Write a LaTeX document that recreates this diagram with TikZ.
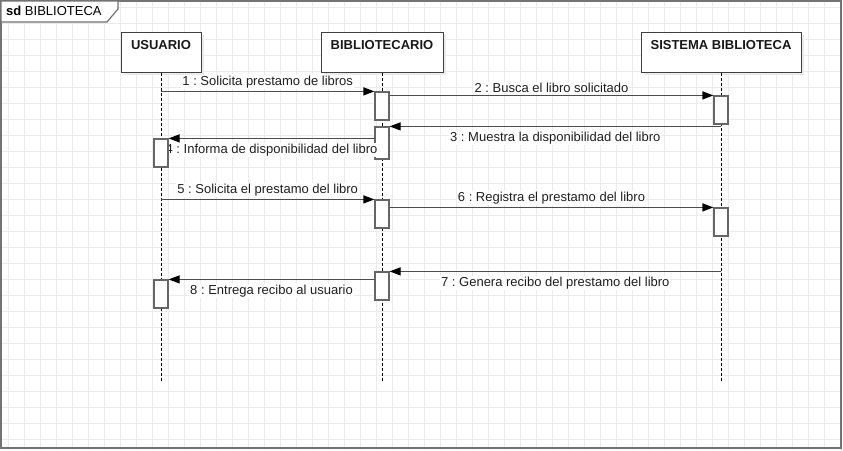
\documentclass[tikz,border=0pt]{standalone}
\usepackage{fontspec}
\setmainfont{Liberation Sans}
\usetikzlibrary{arrows.meta}
\frenchspacing
\begin{document}
\begin{tikzpicture}[x=1pt,y=-1pt,
  gridline/.style={draw=black!8,line width=1.6pt},
  framebox/.style={draw=black!55,line width=1.6pt},
  head/.style={draw=black!75,line width=1pt,fill=white,minimum width=#1,minimum height=40pt,inner sep=0pt},
  shadowbox/.style={fill=black!8,draw=none,minimum width=#1,minimum height=40pt,inner sep=0pt},
  headtext/.style={font=\fontsize{13}{15}\selectfont\bfseries,text=black!90,inner sep=0pt},
  life/.style={draw=black,line width=0.8pt,dash pattern=on 3pt off 2pt},
  act/.style={draw=black!60,line width=1.2pt,fill=white,minimum width=14pt,minimum height=28pt,inner sep=0pt},
  msg/.style={draw=black!70,line width=1.2pt,-{Triangle[length=11pt,width=8pt,black]}},
  lbl/.style={font=\fontsize{13}{15}\selectfont,text=black!88,fill=white,inner sep=1pt},
  lblb/.style={lbl,below=4pt},
  lbla/.style={lbl,above=1.5pt}
]
\useasboundingbox (0,0) rectangle (843,450);
\fill[white] (0,0) rectangle (843,450);
% grid
\foreach \gx in {8.5,24.5,...,843}{\draw[gridline] (\gx,0) -- (\gx,450);}
\foreach \gy in {7.5,23.5,...,450}{\draw[gridline] (0,\gy) -- (843,\gy);}
% frame
\draw[framebox] (1,1) rectangle (841,448);
\draw[draw=black!55,line width=1.2pt,fill=white] (1,1) -- (118,1) -- (118,9) -- (107,22) -- (1,22) -- cycle;
\node[anchor=west,inner sep=0pt,font=\fontsize{13}{15}\selectfont] (title) at (6,11) {\textbf{sd}\ BIBLIOTECA};
% lifeline heads
\node[shadowbox=80pt] at (164,55) {};
\node[shadowbox=122pt] at (385,55) {};
\node[shadowbox=160pt] at (724,55) {};
\node[head=80pt] (u) at (161,52) {};
\node[head=122pt] (b) at (382,52) {};
\node[head=160pt] (s) at (721,52) {};
\node[headtext] (ut) at (161,45) {USUARIO};
\node[headtext] (bt) at (382,45) {BIBLIOTECARIO};
\node[headtext] (st) at (721,45) {SISTEMA BIBLIOTECA};
% lifelines
\coordinate (ue) at (161,382);
\coordinate (be) at (382,382);
\coordinate (se) at (721,382);
\draw[life] (u.south) -- (ue);
\draw[life] (b.south) -- (be);
\draw[life] (s.south) -- (se);
% activations
\node[act] (b1) at (382,106) {};
\node[act] (s1) at (721,110) {};
\node[act,minimum height=32pt] (b2) at (382,143) {};
\node[act] (u1) at (161,153) {};
\node[act] (b3) at (382,214) {};
\node[act] (s2) at (721,222) {};
\node[act] (b4) at (382,286) {};
\node[act] (u2) at (161,294) {};
% messages
\draw[msg] (u.south|-b1.north) -- node[lbla] {1 : Solicita prestamo de libros} (b1.north west);
\draw[msg] (b1.east|-s1.north) -- node[lbla] {2 : Busca el libro solicitado} (s1.north west);
\draw[msg] (s.south|-b2.north) -- node[lblb] {3 : Muestra la disponibilidad del libro} (b2.north east);
\draw[msg] (b2.west|-u1.north) -- node[lblb] {4 : Informa de disponibilidad del libro} (u1.north east);
\draw[msg] (u.south|-b3.north) -- node[lbla] {5 : Solicita el prestamo del libro} (b3.north west);
\draw[msg] (b3.east|-s2.north) -- node[lbla] {6 : Registra el prestamo del libro} (s2.north west);
\draw[msg] (s.south|-b4.north) -- node[lblb] {7 : Genera recibo del prestamo del libro} (b4.north east);
\draw[msg] (b4.west|-u2.north) -- node[lblb] {8 : Entrega recibo al usuario} (u2.north east);
% redraw user activation over label 4
\node[act] at (u1) {};
\end{tikzpicture}
\end{document}
